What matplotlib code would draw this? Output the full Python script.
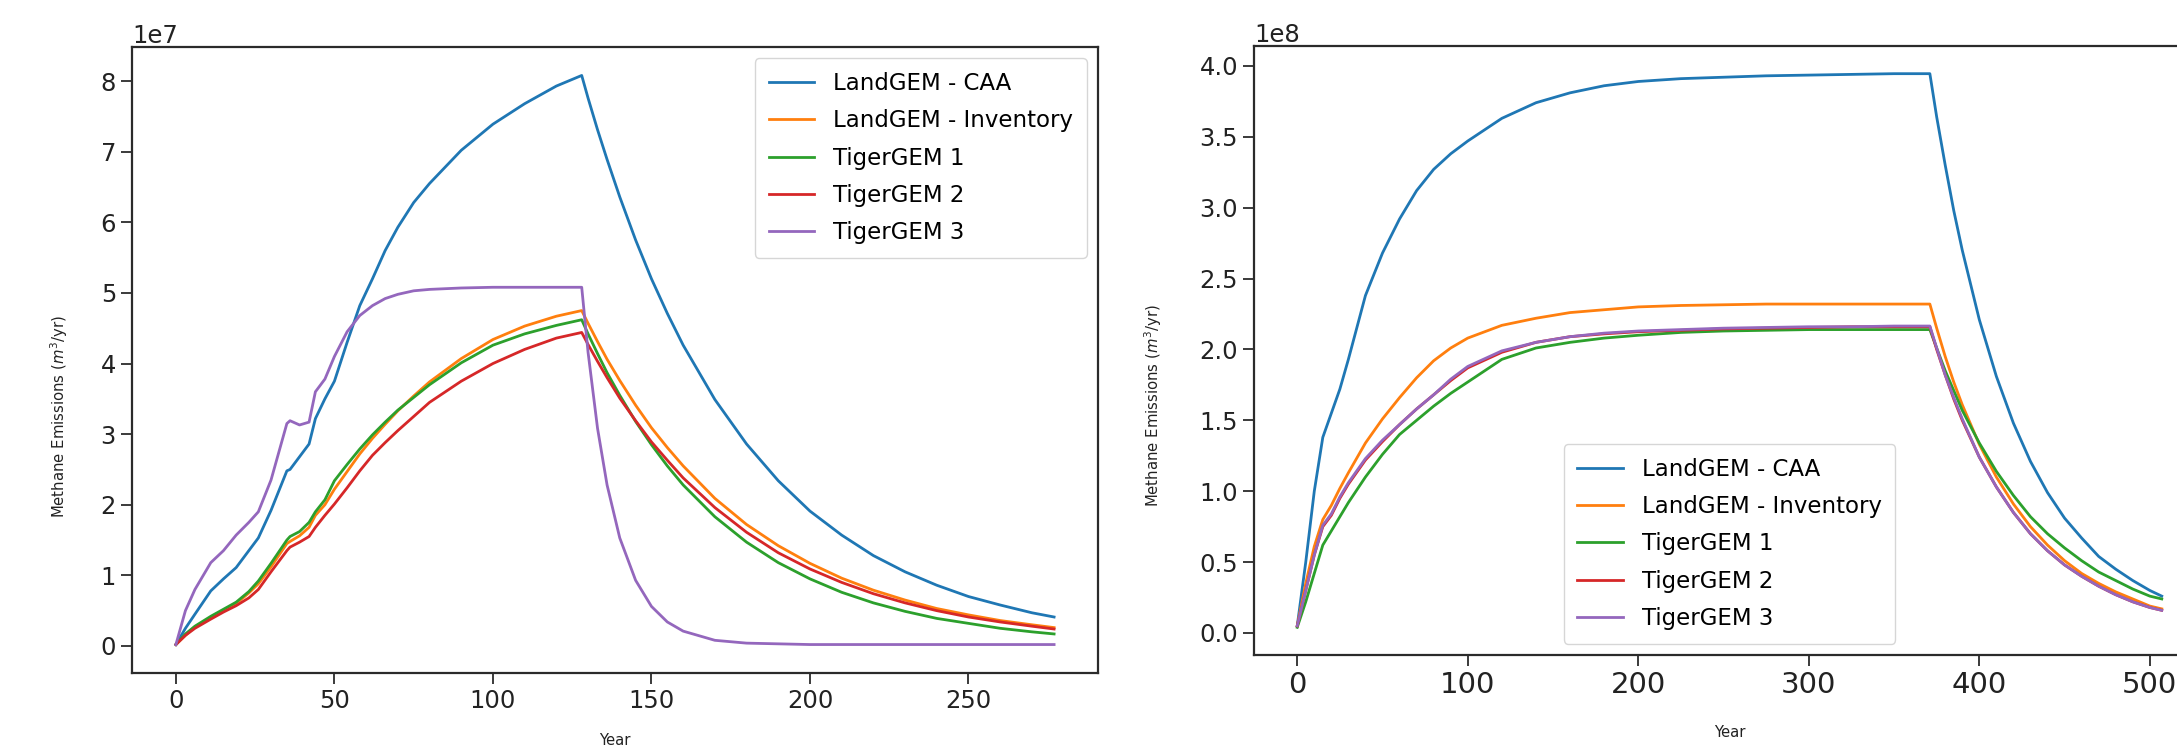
import matplotlib
matplotlib.use('Agg')
import matplotlib.pyplot as plt

# left panel: years and emissions (units of 1e7 m^3/yr)
yearsL = [0, 3, 6, 11, 15, 19, 23, 26, 30, 35, 36, 39, 42, 44, 47, 50, 54, 58, 62, 66, 70, 75, 80, 90, 100, 110, 120, 128,
	130, 133, 136, 140, 145, 150, 155, 160, 170, 180, 190, 200, 210, 220, 230, 240, 250, 260, 270, 277]

caaL = [0.02, 0.25, 0.45, 0.78, 0.95, 1.11, 1.35, 1.53, 1.92, 2.48, 2.5, 2.68, 2.86, 3.22, 3.5, 3.75, 4.3, 4.82, 5.2, 5.6, 5.93, 6.28, 6.55, 7.02, 7.39, 7.68, 7.93, 8.08,
	7.76, 7.31, 6.89, 6.36, 5.75, 5.20, 4.71, 4.26, 3.49, 2.86, 2.34, 1.91, 1.57, 1.28, 1.05, 0.86, 0.70, 0.58, 0.47, 0.41]
invL = [0.02, 0.15, 0.27, 0.4, 0.5, 0.6, 0.75, 0.88, 1.12, 1.45, 1.48, 1.56, 1.68, 1.85, 2.0, 2.22, 2.47, 2.72, 2.94, 3.14, 3.33, 3.54, 3.74, 4.07, 4.34, 4.53, 4.67, 4.75,
	4.57, 4.31, 4.06, 3.76, 3.41, 3.09, 2.81, 2.55, 2.09, 1.72, 1.42, 1.17, 0.96, 0.79, 0.65, 0.53, 0.44, 0.36, 0.30, 0.26]
tg1L = [0.02, 0.17, 0.28, 0.42, 0.52, 0.62, 0.77, 0.92, 1.17, 1.5, 1.55, 1.62, 1.75, 1.9, 2.07, 2.34, 2.57, 2.79, 2.99, 3.17, 3.34, 3.52, 3.70, 4.01, 4.26, 4.42, 4.54, 4.62,
	4.42, 4.14, 3.87, 3.55, 3.18, 2.85, 2.55, 2.28, 1.83, 1.47, 1.18, 0.95, 0.76, 0.61, 0.49, 0.39, 0.32, 0.25, 0.20, 0.17]
tg2L = [0.02, 0.15, 0.25, 0.38, 0.48, 0.57, 0.68, 0.8, 1.05, 1.35, 1.4, 1.47, 1.55, 1.68, 1.85, 2.01, 2.24, 2.48, 2.7, 2.88, 3.05, 3.25, 3.45, 3.75, 4.0, 4.2, 4.36, 4.44,
	4.27, 4.03, 3.80, 3.51, 3.19, 2.89, 2.63, 2.38, 1.96, 1.61, 1.32, 1.09, 0.90, 0.74, 0.61, 0.50, 0.41, 0.34, 0.28, 0.24]
tg3L = [0.02, 0.5, 0.8, 1.18, 1.35, 1.57, 1.75, 1.9, 2.35, 3.15, 3.19, 3.13, 3.17, 3.6, 3.78, 4.1, 4.45, 4.68, 4.82, 4.92, 4.98, 5.03, 5.05, 5.07, 5.08, 5.08, 5.08, 5.08,
	4.16, 3.08, 2.28, 1.53, 0.93, 0.56, 0.34, 0.21, 0.08, 0.04, 0.03, 0.02, 0.02, 0.02, 0.02, 0.02, 0.02, 0.02, 0.02, 0.02]

# right panel: years and emissions (units of 1e8 m^3/yr)
yearsR = [0, 5, 10, 15, 20, 25, 30, 40, 50, 60, 70, 80, 90, 100, 120, 140, 160, 180, 200, 225, 250, 275, 300, 325, 350, 371,
	375, 380, 385, 390, 400, 410, 420, 430, 440, 450, 460, 470, 480, 490, 500, 507]

caaR = [0.05, 0.5, 1.0, 1.38, 1.55, 1.72, 1.93, 2.38, 2.68, 2.92, 3.12, 3.27, 3.38, 3.47, 3.63, 3.74, 3.81, 3.86, 3.89, 3.91, 3.92, 3.93, 3.935, 3.94, 3.945, 3.945,
	3.64, 3.30, 2.98, 2.70, 2.21, 1.81, 1.48, 1.21, 0.99, 0.81, 0.67, 0.54, 0.45, 0.37, 0.30, 0.26]
invR = [0.05, 0.35, 0.61, 0.8, 0.9, 1.02, 1.13, 1.34, 1.51, 1.66, 1.8, 1.92, 2.01, 2.08, 2.17, 2.22, 2.26, 2.28, 2.30, 2.31, 2.315, 2.32, 2.32, 2.32, 2.32, 2.32,
	2.15, 1.95, 1.77, 1.61, 1.33, 1.10, 0.91, 0.75, 0.62, 0.51, 0.42, 0.35, 0.29, 0.24, 0.19, 0.17]
tg1R = [0.04, 0.22, 0.42, 0.62, 0.72, 0.82, 0.92, 1.1, 1.26, 1.40, 1.5, 1.6, 1.69, 1.77, 1.93, 2.01, 2.05, 2.08, 2.10, 2.12, 2.13, 2.135, 2.14, 2.14, 2.14, 2.14,
	2.01, 1.85, 1.71, 1.57, 1.34, 1.14, 0.97, 0.82, 0.70, 0.60, 0.51, 0.43, 0.37, 0.31, 0.26, 0.24]
tg2R = [0.05, 0.3, 0.55, 0.75, 0.83, 0.95, 1.05, 1.22, 1.35, 1.47, 1.58, 1.68, 1.78, 1.87, 1.98, 2.05, 2.09, 2.11, 2.125, 2.135, 2.145, 2.15, 2.155, 2.16, 2.16, 2.16,
	2.00, 1.82, 1.65, 1.50, 1.24, 1.03, 0.85, 0.70, 0.58, 0.48, 0.40, 0.33, 0.27, 0.22, 0.18, 0.16]
tg3R = [0.05, 0.3, 0.55, 0.76, 0.84, 0.96, 1.06, 1.23, 1.36, 1.47, 1.58, 1.68, 1.79, 1.88, 1.99, 2.05, 2.09, 2.115, 2.13, 2.14, 2.15, 2.155, 2.16, 2.16, 2.165, 2.165,
	2.01, 1.82, 1.66, 1.51, 1.24, 1.03, 0.85, 0.70, 0.58, 0.48, 0.40, 0.33, 0.27, 0.22, 0.18, 0.16]

labels = ['LandGEM - CAA', 'LandGEM - Inventory', 'TigerGEM 1', 'TigerGEM 2', 'TigerGEM 3']
colors = ['#1f77b4', '#ff7f0e', '#2ca02c', '#d62728', '#9467bd']

W, H = 2177, 747
fig = plt.figure(figsize=(W / 100, H / 100), dpi=100)

def axRect(l, r, t, b):
	return [l / W, (H - b) / H, (r - l) / W, (b - t) / H]

axL = fig.add_axes(axRect(132, 1098, 47, 673))
axR = fig.add_axes(axRect(1254, 2205, 46, 655))

for series, lab, col in zip([caaL, invL, tg1L, tg2L, tg3L], labels, colors):
	axL.plot(yearsL, [v * 1e7 for v in series], color=col, lw=2.0, label=lab)
for series, lab, col in zip([caaR, invR, tg1R, tg2R, tg3R], labels, colors):
	axR.plot(yearsR, [v * 1e8 for v in series], color=col, lw=2.0, label=lab)

for ax in [axL, axR]:
	for sp in ax.spines.values():
		sp.set_color('#2b2b2b')
		sp.set_linewidth(1.6)
	ax.tick_params(length=8, width=1.3, color='#2b2b2b', labelcolor='#222222')
	ax.set_xlabel('Year', fontsize=10.7, color='#222222')
	ax.set_ylabel('Methane Emissions ($m^3$/yr)', fontsize=10.7, color='#222222')

axL.tick_params(labelsize=17.5)
axL.yaxis.get_offset_text().set_fontsize(17.5)
axR.tick_params(axis='y', labelsize=17.5)
axR.tick_params(axis='x', labelsize=21)
axR.yaxis.get_offset_text().set_fontsize(17.5)

axL.xaxis.set_label_coords(0.5, -0.096)
axR.xaxis.set_label_coords(0.5, -0.115)
axL.yaxis.set_label_coords(-0.064, 0.41)
axR.yaxis.set_label_coords(-0.095, 0.41)

legendOpts = dict(fontsize=16.5, labelspacing=0.62, borderpad=0.6, handlelength=2.0)
axL.legend(loc='upper right', **legendOpts)
axR.legend(loc='lower center', **legendOpts)

fig.savefig('out.png', dpi=100)
